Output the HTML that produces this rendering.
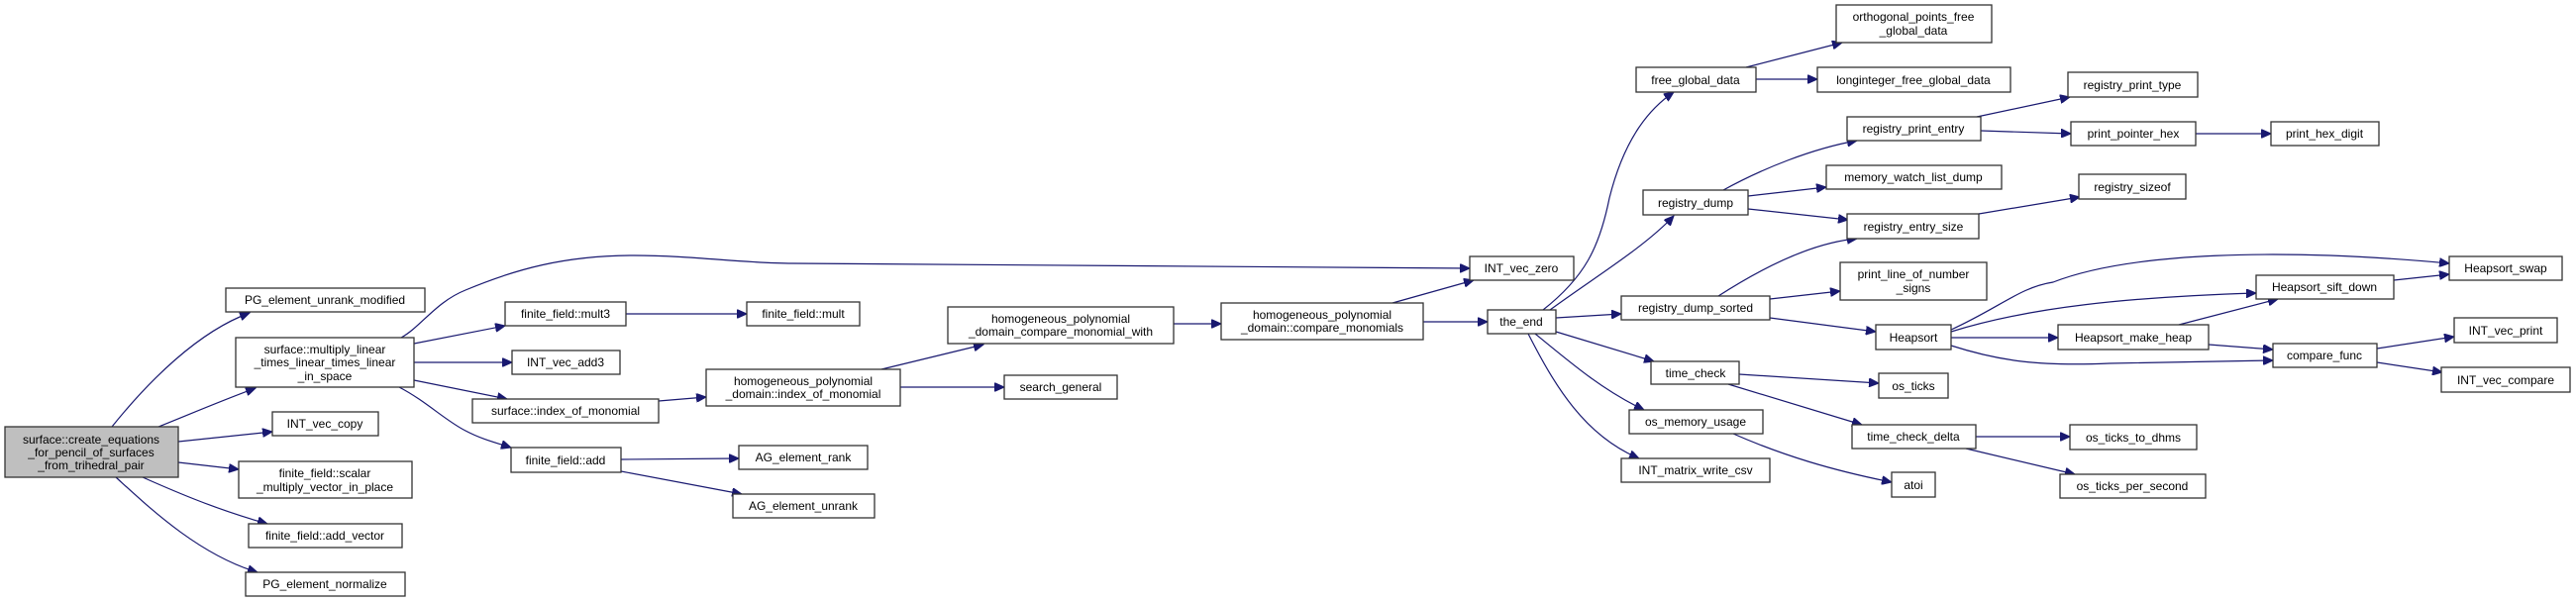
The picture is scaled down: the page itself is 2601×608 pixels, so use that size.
<!DOCTYPE html>
<html><head><meta charset="utf-8"><style>
html,body{margin:0;padding:0;background:#fff;}
svg{display:block;}
text{font-family:"Liberation Sans",Arial,sans-serif;font-size:12px;fill:#000;text-anchor:middle;}
rect{fill:#fff;stroke:#333;stroke-width:1.3;}
path{fill:none;stroke:#191970;stroke-width:1.2;}
</style></head><body>
<svg width="2601" height="608" viewBox="0 0 2601 608" xmlns="http://www.w3.org/2000/svg">
<defs><marker id="a" markerUnits="userSpaceOnUse" markerWidth="11" markerHeight="9" refX="10" refY="4.5" orient="auto"><path d="M0,0 L10,4.5 L0,9 z" style="fill:#191970;stroke:#191970;stroke-width:1"/></marker></defs>
<g marker-end="url(#a)">
<path d="M113,431 C150,385 200,335 252,316"/>
<path d="M160,431 C190,419 225,404 258,392"/>
<path d="M180,446 L275,436"/>
<path d="M180,467 L241,474"/>
<path d="M144,482 C180,498 220,515 270,529"/>
<path d="M117,482 C150,512 200,560 260,578"/>
<path d="M405,341 C425,330 440,305 470,293 C520,272 570,258 640,258 C700,258 750,266 800,266 L1484,271"/>
<path d="M418,347 L510,329"/>
<path d="M418,366 L517,366"/>
<path d="M418,384 L512,403"/>
<path d="M403,391 C430,405 450,425 470,435 C485,443 500,447 516,452"/>
<path d="M632,317 L754,317"/>
<path d="M665,405 L713,401"/>
<path d="M627,464 L746,463"/>
<path d="M627,476 L749,499"/>
<path d="M890,373 L993,348"/>
<path d="M909,391 L1014,391"/>
<path d="M1185,327 L1233,327"/>
<path d="M1406,306 L1488,283"/>
<path d="M1437,325 L1502,325"/>
<path d="M1558,313 C1600,280 1615,250 1625,200 C1640,140 1665,110 1690,93"/>
<path d="M1565,313 C1610,280 1660,250 1690,218"/>
<path d="M1571,321 L1637,317"/>
<path d="M1571,335 L1670,365"/>
<path d="M1550,337 C1590,370 1620,395 1660,414"/>
<path d="M1543,337 C1570,390 1600,440 1655,463"/>
<path d="M1763,68 L1860,43"/>
<path d="M1773,80 L1835,80"/>
<path d="M1740,192 C1780,170 1830,150 1875,142"/>
<path d="M1765,198 L1844,189"/>
<path d="M1765,211 L1866,222"/>
<path d="M1996,118 L2090,98"/>
<path d="M2000,132 L2091,135"/>
<path d="M2217,135 L2293,135"/>
<path d="M1998,216 L2100,199"/>
<path d="M1735,299 C1780,270 1830,245 1875,241"/>
<path d="M1787,302 L1858,294"/>
<path d="M1787,321 L1894,335"/>
<path d="M1970,333 C2020,310 2040,290 2073,285 C2150,255 2300,250 2473,266"/>
<path d="M1970,335 C2050,310 2150,300 2278,296"/>
<path d="M1970,341 L2078,341"/>
<path d="M1970,349 C2020,365 2060,370 2130,367 L2295,364"/>
<path d="M2200,328 L2300,302"/>
<path d="M2230,348 L2295,353"/>
<path d="M2417,283 L2473,277"/>
<path d="M2400,352 L2478,340"/>
<path d="M2400,366 L2466,376"/>
<path d="M1756,378 L1897,387"/>
<path d="M1745,388 L1880,429"/>
<path d="M1750,438 C1800,460 1850,475 1910,487"/>
<path d="M1995,441 L2090,441"/>
<path d="M1985,453 L2095,479"/>
</g>
<!-- nodes -->
<rect x="5" y="431" width="175" height="51" style="fill:#bfbfbf"/>
<text x="92" y="448">surface::create_equations</text><text x="92" y="461">_for_pencil_of_surfaces</text><text x="92" y="474">_from_trihedral_pair</text>
<rect x="228" y="291" width="201" height="24"/><text x="328" y="307">PG_element_unrank_modified</text>
<rect x="238" y="341" width="180" height="50"/><text x="328" y="357">surface::multiply_linear</text><text x="328" y="370">_times_linear_times_linear</text><text x="328" y="384">_in_space</text>
<rect x="275" y="416" width="107" height="24"/><text x="328" y="432">INT_vec_copy</text>
<rect x="241" y="466" width="175" height="37"/><text x="328" y="482">finite_field::scalar</text><text x="328" y="496">_multiply_vector_in_place</text>
<rect x="251" y="529" width="155" height="24"/><text x="328" y="545">finite_field::add_vector</text>
<rect x="248" y="578" width="161" height="24"/><text x="328" y="594">PG_element_normalize</text>
<rect x="510" y="305" width="122" height="24"/><text x="571" y="321">finite_field::mult3</text>
<rect x="754" y="305" width="114" height="24"/><text x="811" y="321">finite_field::mult</text>
<rect x="517" y="354" width="109" height="24"/><text x="571" y="370">INT_vec_add3</text>
<rect x="477" y="403" width="188" height="24"/><text x="571" y="419">surface::index_of_monomial</text>
<rect x="516" y="452" width="111" height="25"/><text x="571" y="469">finite_field::add</text>
<rect x="713" y="373" width="196" height="37"/><text x="811" y="389">homogeneous_polynomial</text><text x="811" y="402">_domain::index_of_monomial</text>
<rect x="746" y="450" width="130" height="24"/><text x="811" y="466">AG_element_rank</text>
<rect x="740" y="499" width="143" height="24"/><text x="811" y="515">AG_element_unrank</text>
<rect x="957" y="310" width="228" height="37"/><text x="1071" y="326">homogeneous_polynomial</text><text x="1071" y="339">_domain_compare_monomial_with</text>
<rect x="1014" y="379" width="114" height="24"/><text x="1071" y="395">search_general</text>
<rect x="1233" y="306" width="204" height="37"/><text x="1335" y="322">homogeneous_polynomial</text><text x="1335" y="335">_domain::compare_monomials</text>
<rect x="1484" y="259" width="105" height="24"/><text x="1536" y="275">INT_vec_zero</text>
<rect x="1502" y="313" width="69" height="24"/><text x="1536" y="329">the_end</text>
<rect x="1652" y="68" width="121" height="25"/><text x="1712" y="85">free_global_data</text>
<rect x="1659" y="192" width="106" height="25"/><text x="1712" y="209">registry_dump</text>
<rect x="1637" y="299" width="150" height="24"/><text x="1712" y="315">registry_dump_sorted</text>
<rect x="1667" y="365" width="89" height="23"/><text x="1712" y="381">time_check</text>
<rect x="1645" y="414" width="135" height="24"/><text x="1712" y="430">os_memory_usage</text>
<rect x="1637" y="463" width="150" height="24"/><text x="1712" y="479">INT_matrix_write_csv</text>
<rect x="1854" y="5" width="157" height="38"/><text x="1932" y="21">orthogonal_points_free</text><text x="1932" y="35">_global_data</text>
<rect x="1835" y="68" width="195" height="25"/><text x="1932" y="85">longinteger_free_global_data</text>
<rect x="1865" y="118" width="135" height="24"/><text x="1932" y="134">registry_print_entry</text>
<rect x="1844" y="167" width="177" height="24"/><text x="1932" y="183">memory_watch_list_dump</text>
<rect x="1865" y="216" width="133" height="25"/><text x="1932" y="233">registry_entry_size</text>
<rect x="1858" y="265" width="148" height="38"/><text x="1932" y="281">print_line_of_number</text><text x="1932" y="295">_signs</text>
<rect x="1894" y="328" width="76" height="25"/><text x="1932" y="345">Heapsort</text>
<rect x="1897" y="377" width="70" height="25"/><text x="1932" y="394">os_ticks</text>
<rect x="1870" y="429" width="125" height="24"/><text x="1932" y="445">time_check_delta</text>
<rect x="1910" y="477" width="44" height="25"/><text x="1932" y="494">atoi</text>
<rect x="2088" y="73" width="131" height="25"/><text x="2153" y="90">registry_print_type</text>
<rect x="2091" y="123" width="126" height="24"/><text x="2154" y="139">print_pointer_hex</text>
<rect x="2099" y="176" width="108" height="25"/><text x="2153" y="193">registry_sizeof</text>
<rect x="2078" y="328" width="152" height="25"/><text x="2154" y="345">Heapsort_make_heap</text>
<rect x="2090" y="429" width="128" height="25"/><text x="2154" y="446">os_ticks_to_dhms</text>
<rect x="2080" y="479" width="147" height="24"/><text x="2153" y="495">os_ticks_per_second</text>
<rect x="2293" y="123" width="109" height="24"/><text x="2347" y="139">print_hex_digit</text>
<rect x="2278" y="278" width="139" height="24"/><text x="2347" y="294">Heapsort_sift_down</text>
<rect x="2295" y="347" width="105" height="24"/><text x="2347" y="363">compare_func</text>
<rect x="2473" y="259" width="114" height="24"/><text x="2530" y="275">Heapsort_swap</text>
<rect x="2478" y="321" width="104" height="25"/><text x="2530" y="338">INT_vec_print</text>
<rect x="2465" y="371" width="130" height="25"/><text x="2530" y="388">INT_vec_compare</text>
</svg>
</body></html>
